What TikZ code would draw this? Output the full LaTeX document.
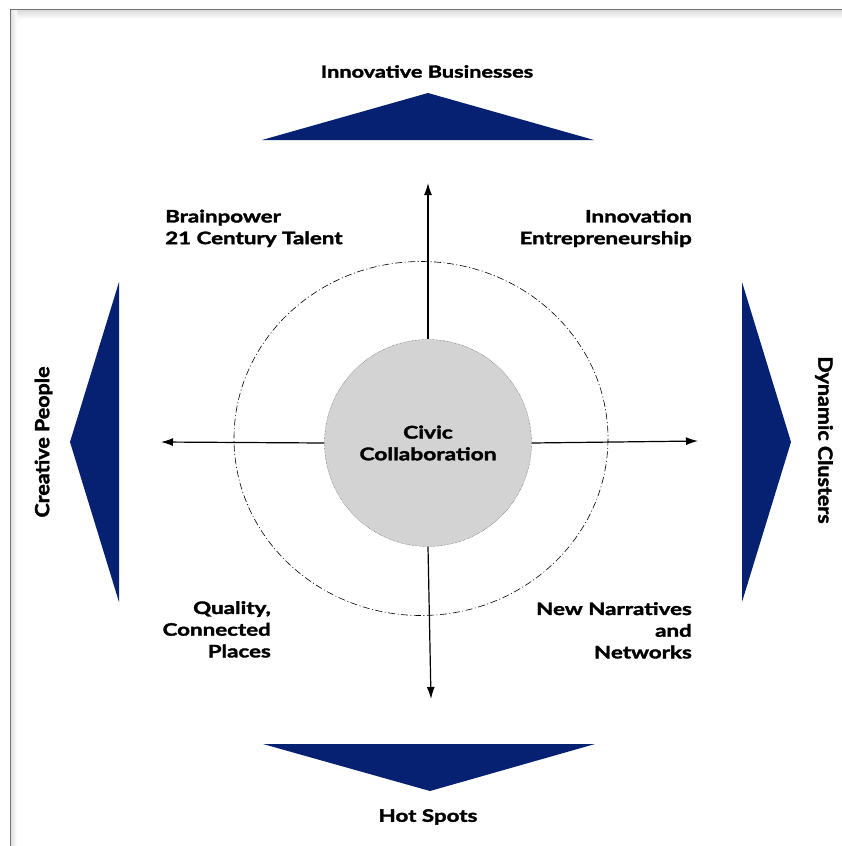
\documentclass[tikz,border=0pt]{standalone}
\usepackage{fontspec}
\setmainfont{Lato}
\newfontfamily\heavyfont[FakeStretch=1.3,FakeBold=2]{Lato}
\newfontfamily\sideheavyfont[FakeStretch=1.1,FakeBold=2]{Lato}
\usetikzlibrary{positioning,arrows.meta}

\definecolor{navy}{RGB}{7,33,114}
\definecolor{discgray}{RGB}{211,211,211}

\tikzset{
	wedge/.style={fill=navy,draw=none},
	spoke/.style={line width=1.2pt,-{Latex[length=12pt,width=8pt]}},
	quadlbl/.style={font=\heavyfont\bfseries\fontsize{17.2}{21.7}\selectfont,inner sep=0pt},
	sidelbl/.style={font=\sideheavyfont\bfseries\fontsize{19.5}{22}\selectfont,inner sep=0pt}
}

\begin{document}
\begin{tikzpicture}[x=1pt,y=-1pt]
	\useasboundingbox (0,0) rectangle (842,846);
	% Page frame
	\shade[top color=black!14,bottom color=white] (10,10) rectangle (842,19);
	\shade[left color=black!14,right color=white] (10,10) rectangle (17,846);
	\draw[black!55,line width=1pt] (10,846) -- (10,9.5) -- (842,9.5);

	% Outer wedges
	\fill[wedge] (262,140) -- (428,93) -- (594,140) -- cycle;
	\fill[wedge] (263,744) -- (595,744) -- (430,791) -- cycle;
	\fill[wedge] (119,282) -- (119,602) -- (70,442) -- cycle;
	\fill[wedge] (742,282) -- (742,602) -- (791,442) -- cycle;

	% Ring and disc
	\draw[line width=0.6pt,dash pattern=on 7pt off 2.5pt on 1pt off 2.5pt]
		(421,438.5) ellipse [x radius=187,y radius=177];
	\node[circle,fill=discgray,draw=black!80,densely dotted,minimum size=207pt,
		inner sep=0pt,align=center,font=\heavyfont\bfseries\fontsize{17.5}{21.7}\selectfont]
		(civic) at (428,443) {Civic\\Collaboration};

	% Spokes
	\coordinate (tipN) at (428,183);
	\coordinate (tipW) at (161,442);
	\coordinate (tipE) at (698,441);
	\coordinate (tipS) at (431,699);
	\draw[spoke] (civic.north) -- (tipN);
	\draw[spoke] (civic.west) -- (tipW);
	\draw[spoke] (civic.east) -- (tipE);
	\draw[spoke] (civic.south) -- (tipS);

	% Quadrant labels
	\node[quadlbl,anchor=north west,align=left] (brain) at (165,209.5) {Brainpower\\21 Century Talent};
	\node[quadlbl,anchor=north east,align=right] (innov) at (692,209.5) {Innovation\\Entrepreneurship};
	\node[quadlbl,anchor=north east,align=right] (places) at (271,601) {Quality,\\Connected\\Places};
	\node[quadlbl,anchor=north east,align=right] (narr) at (692,602) {New Narratives\\and\\Networks};

	% Wedge labels
	\node[quadlbl,font=\heavyfont\bfseries\fontsize{16.7}{20}\selectfont,anchor=north] (business) at (427,65) {Innovative Businesses};
	\node[quadlbl,anchor=north] (hotspots) at (428,809) {Hot Spots};
	\node[sidelbl,anchor=north,rotate=90] (people) at (34.5,442) {Creative People};
	\node[sidelbl,anchor=north,rotate=-90] (clusters) at (833,440) {Dynamic Clusters};
\end{tikzpicture}
\end{document}
